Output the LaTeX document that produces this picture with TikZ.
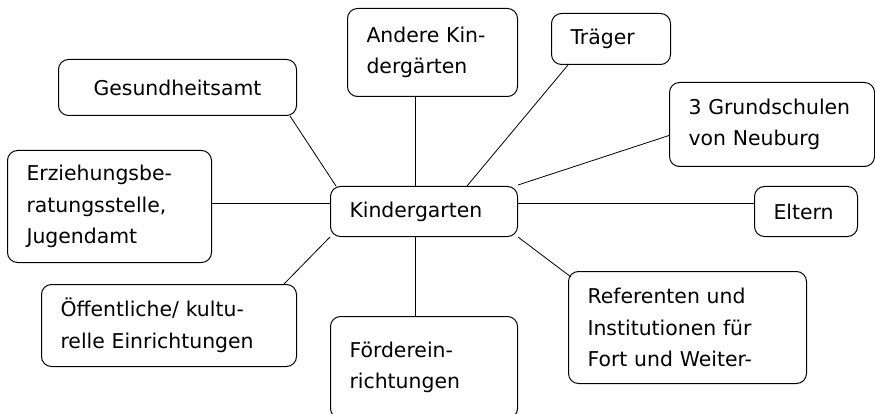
\documentclass[tikz,border=0pt]{standalone}
\usepackage{fontspec}
\setmainfont{DejaVu Sans}

\begin{document}
\begin{tikzpicture}[x = 1pt, y = -1pt,
	box/.style = {draw, line width = 1pt, rounded corners = 10pt, anchor = north west,
		align = left, inner xsep = 19pt, inner ysep = 2pt,
		font = \fontsize{20.4pt}{31.5pt}\selectfont},
	link/.style = {line width = 0.8pt}]

	% Page

	\useasboundingbox (0, 0) rectangle (875, 414);

	% Centre

	\node [box, text width = 149pt, minimum height = 50pt] (kita) at (330, 186) {Kindergarten};

	% Partners round the centre

	\node [box, text width = 200pt, minimum height = 56pt, align = center] (gesund) at (58, 59) {Gesundheitsamt};
	\node [box, text width = 132pt, minimum height = 88pt] (andere) at (347, 8) {Andere Kin-\\dergärten};
	\node [box, text width = 81pt, minimum height = 51pt] (traeger) at (551, 13) {Träger};
	\node [box, text width = 167pt, minimum height = 84pt] (schulen) at (669, 82) {3 Grundschulen\\von Neuburg};
	\node [box, text width = 65pt, minimum height = 50pt] (eltern) at (754, 186) {Eltern};
	\node [box, text width = 166pt, minimum height = 112pt] (erz) at (7, 150) {Erziehungsbe-\\ratungsstelle,\\Jugendamt};
	\node [box, text width = 217pt, minimum height = 82pt] (oeff) at (41, 284) {Öffentliche/ kultu-\\relle Einrichtungen};
	\node [box, text width = 149pt, minimum height = 102pt] (foerder) at (330, 316) {Förderein-\\richtungen};
	\node [box, text width = 200pt, minimum height = 112pt] (ref) at (568, 271) {Referenten und\\Institutionen für\\Fort und Weiter-};

	% Helper points on the centre box

	\coordinate (kl) at ([yshift = 8pt] kita.west);
	\coordinate (kr) at ([yshift = 8pt] kita.east);
	\coordinate (kt) at ([xshift = -8.5pt] kita.north);
	\coordinate (kb) at ([xshift = -8.5pt] kita.south);

	% Connectors

	\draw [link] ([xshift = -7pt] gesund.south east) -- ([xshift = 6pt] kita.north west);
	\draw [link] (kt) -- (kt |- andere.south);
	\draw [link] ([xshift = 17pt] traeger.south west) -- ([xshift = -51pt] kita.north east);
	\draw [link] ([yshift = -11pt] schulen.west) -- ([yshift = 1pt] kita.north east);
	\draw [link] (kr) -- (kr -| eltern.west);
	\draw [link] (kl) -- (kl -| erz.east);
	\draw [link] (kita.south west) -- ([xshift = -13pt] oeff.north east);
	\draw [link] (kb) -- (kb |- foerder.north);
	\draw [link] (kita.south east) -- ([shift = {(3pt, -6pt)}] ref.north west);

\end{tikzpicture}
\end{document}
